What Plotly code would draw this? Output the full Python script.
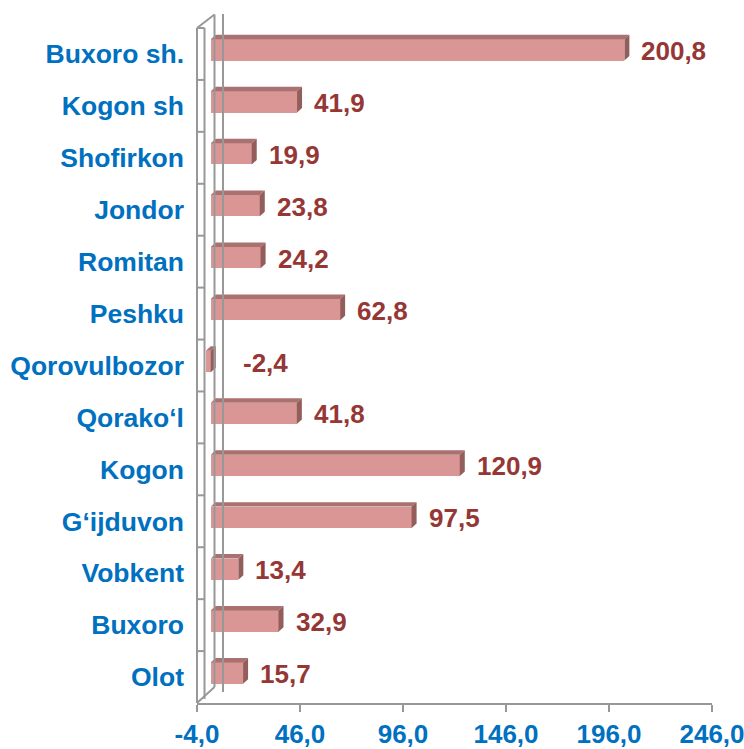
import plotly.graph_objects as go

# ---------------- data ----------------
categories = ["Buxoro sh.", "Kogon sh", "Shofirkon", "Jondor", "Romitan", "Peshku",
              "Qorovulbozor", "Qorako\u2018l", "Kogon", "G\u2018ijduvon", "Vobkent",
              "Buxoro", "Olot"]
values = [200.8, 41.9, 19.9, 23.8, 24.2, 62.8, -2.4, 41.8, 120.9, 97.5, 13.4, 32.9, 15.7]
x_ticks = [-4.0, 46.0, 96.0, 146.0, 196.0, 246.0]
x_tick_labels = ["-4,0", "46,0", "96,0", "146,0", "196,0", "246,0"]

# ---------------- styling ----------------
W, H = 744, 749
ML, MR, MT, MB = 197, 32, 28, 46
plot_w = W - ML - MR
plot_h = H - MT - MB
n = len(categories)
x_min, x_max = x_ticks[0], x_ticks[-1]
px_per_unit = plot_w / (x_max - x_min)
band = plot_h / n

FONT = "Arial, Liberation Sans, sans-serif"
BLUE = "#0070C0"
RED_TXT = "#953735"
FRONT = "#D99694"
TOP = "#A9716F"
SIDE = "#935D5B"
GRAY = "#989898"

# bars sit on a plane slightly behind the front plane
plane_dx_px, plane_dy_px = 5.5, 4.0
x2_shift = plane_dx_px / px_per_unit
y2_shift = plane_dy_px / band
bar_w = 0.41
depth_dx = 5.0 / px_per_unit
depth_dy = 4.5 / band

fig = go.Figure()

idx = list(range(n))

# invisible trace on the front-plane axes so that they are drawn
fig.add_trace(go.Scatter(x=values, y=idx, mode="markers", marker=dict(opacity=0),
                         hoverinfo="skip", showlegend=False))

# front faces
fig.add_trace(go.Bar(
    x=values, y=idx, orientation="h", width=bar_w,
    marker=dict(color=FRONT, line=dict(width=0)),
    xaxis="x2", yaxis="y2", hoverinfo="x", showlegend=False,
))

# top and side faces
tx, ty, sx, sy = [], [], [], []
for i, v in enumerate(values):
    lo, hi = min(0.0, v), max(0.0, v)
    yt, yb = i - bar_w / 2, i + bar_w / 2
    tx += [lo, hi, hi + depth_dx, lo + depth_dx, lo, None]
    ty += [yt, yt, yt - depth_dy, yt - depth_dy, yt, None]
    sx += [hi, hi, hi + depth_dx, hi + depth_dx, hi, None]
    sy += [yt, yb, yb - depth_dy, yt - depth_dy, yt, None]

fig.add_trace(go.Scatter(x=tx, y=ty, mode="lines", fill="toself", fillcolor=TOP,
                         line=dict(width=0, color=TOP), xaxis="x2", yaxis="y2",
                         hoverinfo="skip", showlegend=False))
fig.add_trace(go.Scatter(x=sx, y=sy, mode="lines", fill="toself", fillcolor=SIDE,
                         line=dict(width=0, color=SIDE), xaxis="x2", yaxis="y2",
                         hoverinfo="skip", showlegend=False))

# value labels
annotations = []
for i, v in enumerate(values):
    annotations.append(dict(
        x=max(v, 0.0), y=i, xref="x2", yref="y2",
        text=f"{v:.1f}".replace(".", ","), showarrow=False,
        xanchor="left", yanchor="middle",
        xshift=15 if v >= 0 else 30, yshift=-1,
        font=dict(family=FONT, size=26, color=RED_TXT, weight="bold"),
    ))

# side wall (3-D frame)
shapes = []
def seg(x0, y0, x1, y1):
    shapes.append(dict(type="line", xref="paper", yref="paper",
                       xsizemode="pixel", ysizemode="pixel", xanchor=0, yanchor=0,
                       x0=x0, y0=y0, x1=x1, y1=y1,
                       line=dict(color=GRAY, width=2), layer="above"))

top = plot_h
seg(0, 0, 0, top)
seg(7.5, 4, 7.5, top)
seg(0, top, 7.5, top)
seg(0, top, 17.5, top + 13.5)
seg(17.5, 16, 17.5, top + 13.5)
seg(26, 11, 26, top + 14)
seg(0, 0, 17.5, 16)
for k in range(1, n):
    seg(0, k * band, 7.5, k * band)

fig.update_layout(
    width=W, height=H,
    margin=dict(l=ML, r=MR, t=MT, b=MB, pad=0, autoexpand=False),
    paper_bgcolor="white", plot_bgcolor="rgba(0,0,0,0)",
    bargap=0,
    xaxis=dict(range=[x_min, x_max], tickvals=x_ticks, ticktext=x_tick_labels,
               showgrid=False, zeroline=False, showline=True, linecolor=GRAY, linewidth=2,
               ticks="outside", ticklen=7, tickwidth=2, tickcolor=GRAY,
               ticklabeloverflow="allow",
               tickfont=dict(family=FONT, size=26, color=BLUE, weight="bold"),
               automargin=False, fixedrange=True),
    yaxis=dict(range=[n - 0.5, -0.5], tickvals=idx, ticktext=categories,
               showgrid=False, zeroline=False, showline=False, ticks="",
               ticklabelstandoff=12,
               tickfont=dict(family=FONT, size=26.5, color=BLUE, weight="bold"),
               automargin=False, fixedrange=True),
    xaxis2=dict(range=[x_min - x2_shift, x_max - x2_shift], overlaying="x", anchor="y",
                visible=False, fixedrange=True),
    yaxis2=dict(range=[n - 0.5 + y2_shift, -0.5 + y2_shift], overlaying="y", anchor="x",
                visible=False, fixedrange=True),
    annotations=annotations,
    shapes=shapes,
)

fig.write_html("out.html",
               config={"displayModeBar": False},
               post_script="document.body.style.margin='0px';document.body.style.overflow='hidden';")
